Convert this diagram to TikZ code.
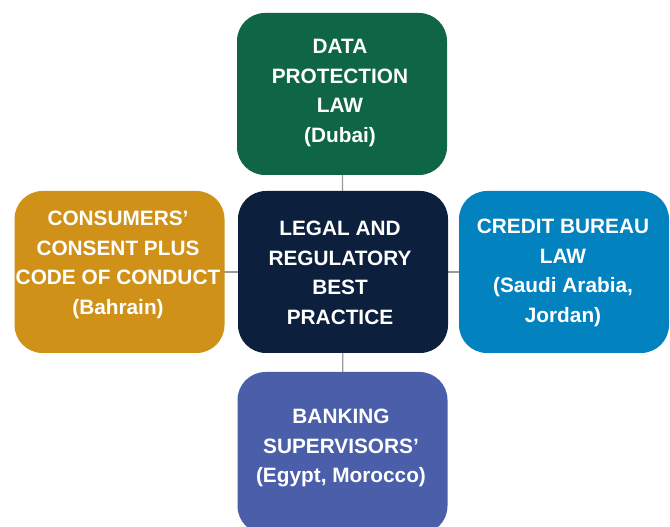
\documentclass[tikz,border=0pt]{standalone}
\usepackage{fontspec}
\setmainfont{Liberation Sans}
\definecolor{cgreen}{HTML}{0E6645}
\definecolor{cnavy}{HTML}{0C1F3D}
\definecolor{cgold}{HTML}{D09119}
\definecolor{cblue}{HTML}{0283C0}
\definecolor{cviolet}{HTML}{4A5EAA}
\definecolor{cline}{HTML}{9A9A9A}
\pgfdeclarelayer{bg}
\pgfsetlayers{bg,main}
\begin{document}
\begin{tikzpicture}[x=1pt,y=1pt,
  box/.style={draw=none, rounded corners=28pt, minimum width=210pt, minimum height=162pt, inner sep=0pt},
  lbl/.style={text=white, font=\bfseries\fontsize{20.8}{29.5}\selectfont, align=center, inner sep=0pt},
  conn/.style={draw=cline, line width=1.3pt}]
\useasboundingbox (0,0) rectangle (670,527);
\clip (0,0) rectangle (670,527);
\node[box, fill=cgreen] (top) at (342,433) {};
\node[box, fill=cnavy] (mid) at (343,255) {};
\node[box, fill=cgold] (left) at (119.5,255) {};
\node[box, fill=cblue] (right) at (564,255) {};
\node[box, fill=cviolet] (bot) at (342.5,74) {};
\begin{pgfonlayer}{bg}
\fill[white] (0,0) rectangle (670,527);
\draw[conn] (mid.center) -- (top.center);
\draw[conn] (mid.center) -- (bot.center);
\draw[conn] (mid.center) -- (left.center);
\draw[conn] (mid.center) -- (right.center);
\end{pgfonlayer}
\node[lbl] (ttop) at (340,434) {DATA\\PROTECTION\\LAW\\(Dubai)};
\node[lbl] (tmid) at (340,254) {LEGAL AND\\REGULATORY\\BEST\\PRACTICE};
\node[lbl] (tleft) at (118,262) {CONSUMERS’\\CONSENT PLUS\\CODE OF CONDUCT\\(Bahrain)};
\node[lbl] (tright) at (563,254) {CREDIT BUREAU\\LAW\\(Saudi Arabia,\\Jordan)};
\node[lbl] (tbot) at (341,79) {BANKING\\SUPERVISORS’\\(Egypt, Morocco)};
\end{tikzpicture}
\end{document}
